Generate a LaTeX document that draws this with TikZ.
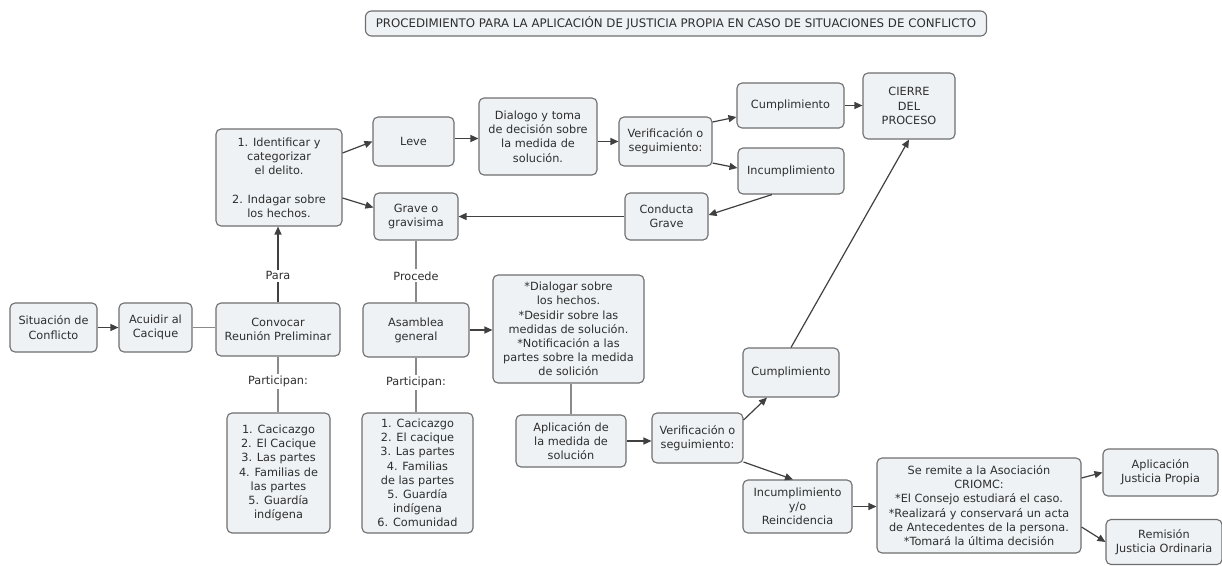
\documentclass[tikz,border=0pt]{standalone}
\usepackage{fontspec}
\setmainfont{DejaVu Sans}
\usepackage{tikz}
\usetikzlibrary{arrows.meta}
\usepackage{xcolor}
\definecolor{boxfill}{HTML}{EEF2F5}
\definecolor{boxline}{HTML}{6E6E6E}
\definecolor{boxtext}{HTML}{2E2E2E}
\definecolor{linkline}{HTML}{8A8A8A}
\tikzset{
    box_node/.style={draw=boxline, fill=boxfill, line width=1.1pt, rounded corners=5pt, align=center, text=boxtext, inner sep=1pt, font=\fontsize{11.3}{14.2}\selectfont},
    box_size/.style 2 args={minimum width=#1, minimum height=#2},
    title_node/.style={box_node, rounded corners=6pt, font=\fontsize{11.8}{13}\selectfont},
    link_label/.style={fill=white, text=boxtext, inner sep=2pt, font=\fontsize{11.3}{14.2}\selectfont},
    edge_arrow/.style={draw=black!75, line width=1.2pt, -{Triangle[length=8pt,width=7pt]}},
    edge_plain/.style={draw=linkline, line width=1.5pt}
}

\begin{document}
\begin{tikzpicture}[x=1pt, y=-1pt]
    \useasboundingbox (0,0) rectangle (1222,565);
    \node[title_node, box_size={621pt}{25pt}](title) at (676,23.5) {PROCEDIMIENTO PARA LA APLICACIÓN DE JUSTICIA PROPIA EN CASO DE SITUACIONES DE CONFLICTO};

    \node[box_node, box_size={87pt}{49pt}](sit) at (53.5,327.5) {Situación de\\Conflicto};
    \node[box_node, box_size={73pt}{49pt}](acu) at (155.5,327.5) {Acuidir al\\Cacique};
    \node[box_node, box_size={124pt}{53pt}](conv) at (278,329.5) {Convocar\\Reunión Preliminar};
    \node[box_node, box_size={126pt}{97pt}](ident) at (279,177.5) {1. Identificar y\\categorizar\\el delito.\\[14.2pt]2. Indagar sobre\\los hechos.};
    \node[box_node, box_size={103pt}{120pt}](list1) at (278.5,473) {1. Cacicazgo\\2. El Cacique\\3. Las partes\\4. Familias de\\las partes\\5. Guardía\\indígena};

    \node[box_node, box_size={81pt}{49pt}](leve) at (413.5,141.5) {Leve};
    \node[box_node, box_size={118pt}{77pt}](dialogo) at (538,136.5) {Dialogo y toma\\de decisión sobre\\la medida de\\solución.};
    \node[box_node, box_size={93pt}{49pt}](verif1) at (665.5,141.5) {Verificación o\\seguimiento:};
    \node[box_node, box_size={107pt}{45pt}](cump1) at (790.5,105.5) {Cumplimiento};
    \node[box_node, box_size={106pt}{46pt}](incump1) at (791,171) {Incumplimiento};
    \node[box_node, box_size={92pt}{66pt}](cierre) at (909,106) {CIERRE\\DEL\\PROCESO};
    \node[box_node, box_size={84pt}{47pt}](grave) at (416,216.5) {Grave o\\gravisima};
    \node[box_node, box_size={83pt}{47pt}](conducta) at (666.5,216.5) {Conducta\\Grave};

    \node[box_node, box_size={106pt}{54pt}](asamblea) at (416,330) {Asamblea\\general};
    \node[box_node, box_size={111pt}{120pt}](list2) at (417.5,473) {1. Cacicazgo\\2. El cacique\\3. Las partes\\4. Familias\\de las partes\\5. Guardía\\indígena\\6. Comunidad};
    \node[box_node, box_size={151pt}{108pt}](dialogar) at (568.5,329) {*Dialogar sobre\\los hechos.\\*Desidir sobre las\\medidas de solución.\\*Notificación a las\\partes sobre la medida\\de solición};
    \node[box_node, box_size={110pt}{52pt}](aplic) at (571,441) {Aplicación de\\la medida de\\solución};
    \node[box_node, box_size={91pt}{50pt}](verif2) at (697.5,438) {Verificación o\\seguimiento:};
    \node[box_node, box_size={96pt}{49pt}](cump2) at (791,372.5) {Cumplimiento};
    \node[box_node, box_size={109pt}{53pt}](reinc) at (797.5,506.5) {Incumplimiento\\y/o\\Reincidencia};
    \node[box_node, box_size={204pt}{95pt}](remite) at (979,505.5) {Se remite a la Asociación\\CRIOMC:\\*El Consejo estudiará el caso.\\*Realizará y conservará un acta\\de Antecedentes de la persona.\\*Tomará la última decisión};
    \node[box_node, box_size={115pt}{47pt}](ajp) at (1160.5,472.5) {Aplicación\\Justicia Propia};
    \node[box_node, box_size={116pt}{45pt}](rjo) at (1164,542) {Remisión\\Justicia Ordinaria};

    \draw[edge_arrow] (sit) -- (acu);
    \draw[edge_plain] (acu.east) -- (acu.east -| conv.west);
    \draw[edge_arrow] (conv.north) -- node[link_label, pos=0.35]{Para} (conv.north |- ident.south);
    \draw[edge_arrow] ([yshift=24.5pt]ident.east) -- (leve.west);
    \draw[edge_arrow] ([yshift=-20.5pt]ident.east) -- ([yshift=9pt]grave.west);
    \draw[edge_arrow] ([yshift=3pt]leve.east) -- ([yshift=3pt]leve.east -| dialogo.west);
    \draw[edge_arrow] (verif1.west -| dialogo.east) -- (verif1.west);
    \draw[edge_arrow] ([yshift=19.5pt]verif1.east) -- ([yshift=-11.5pt]cump1.west);
    \draw[edge_arrow] ([yshift=-21.5pt]verif1.east) -- ([yshift=3pt]incump1.west);
    \draw[edge_arrow] (cump1.east) -- (cump1.east -| cierre.west);
    \draw[edge_arrow] ([xshift=-19pt]incump1.south) -- ([yshift=1.5pt]conducta.east);
    \draw[edge_arrow] (conducta.west) -- (conducta.west -| grave.east);
    \draw[edge_plain] (grave.south) -- node[link_label, pos=0.57]{Procede} (asamblea.north);
    \draw[edge_arrow] (asamblea.east) -- (asamblea.east -| dialogar.west);
    \draw[edge_plain] (aplic.north) -- (aplic.north |- dialogar.south);
    \draw[edge_arrow] (aplic.east) -- (aplic.east -| verif2.west);
    \draw[edge_arrow] ([yshift=18pt]verif2.east) -- ([xshift=-24pt]cump2.south);
    \draw[edge_arrow] ([yshift=-24pt]verif2.east) -- ([xshift=-4.5pt]reinc.north);
    \draw[edge_arrow] (cump2.north) -- (cierre.south);
    \draw[edge_arrow] (reinc.east) -- (reinc.east -| remite.west);
    \draw[edge_arrow] ([yshift=27.5pt]remite.east) -- (ajp.west);
    \draw[edge_arrow] ([yshift=-21.5pt]remite.east) -- (rjo.west);
    \draw[edge_plain] (conv.south) -- node[link_label, pos=0.44]{Participan:} (conv.south |- list1.north);
    \draw[edge_plain] (asamblea.south) -- node[link_label, pos=0.46]{Participan:} (asamblea.south |- list2.north);
\end{tikzpicture}
\end{document}
